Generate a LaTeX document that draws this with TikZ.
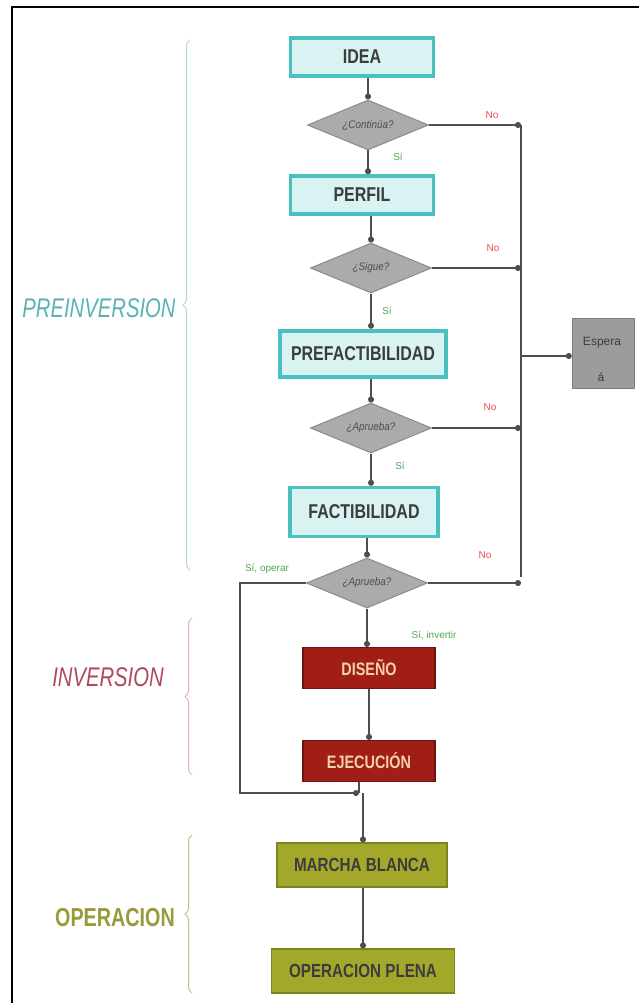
\documentclass[tikz,border=0pt]{standalone}
\usepackage{fontspec}
\setmainfont{Liberation Sans}
\newfontfamily\boxfont[FakeStretch=0.8]{Liberation Sans Bold}
\newfontfamily\labfont[FakeStretch=0.75]{Liberation Sans Italic}
\newfontfamily\oplabfont[FakeStretch=0.76]{Liberation Sans Bold}
\newfontfamily\decfont[FakeStretch=0.9]{Liberation Sans Italic}
\usetikzlibrary{shapes.geometric,arrows.meta,decorations.pathreplacing}
\definecolor{tealb}{HTML}{4BC0C0}
\definecolor{tealf}{HTML}{D9F2F2}
\definecolor{teallab}{HTML}{5AB2B2}
\definecolor{dgray}{HTML}{3C3C3C}
\definecolor{lgray}{HTML}{4E4E4E}
\definecolor{diafill}{HTML}{ABABAB}
\definecolor{diadraw}{HTML}{8A8A8A}
\definecolor{redf}{HTML}{A01E16}
\definecolor{redd}{HTML}{6E1410}
\definecolor{redt}{HTML}{F3D2A8}
\definecolor{olivef}{HTML}{A4A82A}
\definecolor{olived}{HTML}{7C861C}
\definecolor{olivelab}{HTML}{9A9A3A}
\definecolor{invlab}{HTML}{B0485A}
\definecolor{nored}{HTML}{E8505A}
\definecolor{sigreen}{HTML}{4FA84F}
\definecolor{espf}{HTML}{9C9C9C}
\tikzset{
  tbox/.style={draw=tealb,line width=3.5pt,fill=tealf,minimum height=38pt,inner sep=2pt,
    font=\fontsize{20}{22}\boxfont,text=dgray},
  rbox/.style={draw=redd,line width=1.2pt,fill=redf,minimum width=132pt,minimum height=41pt,
    font=\fontsize{18}{20}\boxfont,text=redt},
  obox/.style={draw=olived,line width=1.2pt,fill=olivef,minimum height=44pt,inner sep=2pt,
    font=\fontsize{19}{21}\boxfont,text=dgray},
  dec/.style={diamond,aspect=2.4,draw=diadraw,line width=1pt,fill=diafill,minimum width=121pt,minimum height=50pt,
    inner sep=0pt,font=\fontsize{11}{12}\decfont,text=lgray},
  conn/.style={draw=lgray,line width=1.5pt},
  arr/.style={conn,-{Circle[length=6pt]}},
  nolab/.style={font=\fontsize{10}{11}\selectfont,text=nored},
  silab/.style={font=\fontsize{10}{11}\selectfont,text=sigreen},
  esptext/.style={font=\fontsize{12}{14}\selectfont,text=dgray},
  brc/.style={decorate,decoration={brace,amplitude=7pt},line width=1pt},
}
\begin{document}
\begin{tikzpicture}[x=1pt,y=-1pt]
\useasboundingbox (0,0) rectangle (639,1003);
\fill[white] (0,0) rectangle (639,1003);
% frame
\draw[black,line width=2.5pt] (12,1003) -- (12,7) -- (639,7);

% nodes
\node[tbox,minimum width=143pt] (idea) at (362,57) {IDEA};
\node[dec] (d1) at (368,125) {¿Continúa?};
\node[tbox,minimum width=143pt] (perfil) at (362,195) {PERFIL};
\node[dec] (d2) at (371,268) {¿Sigue?};
\node[tbox,minimum width=166pt,minimum height=46pt,line width=4.5pt] (pref) at (363,354) {PREFACTIBILIDAD};
\node[dec] (d3) at (371,428) {¿Aprueba?};
\node[tbox,minimum width=148pt,minimum height=49pt] (fact) at (364,512) {FACTIBILIDAD};
\node[dec] (d4) at (367,583) {¿Aprueba?};
\node[rbox] (dis) at (369,668) {DISEÑO};
\node[rbox] (eje) at (369,761) {EJECUCIÓN};
\node[obox,minimum width=170pt] (mb) at (362,865) {MARCHA BLANCA};
\node[obox,minimum width=183pt] (op) at (363,971) {OPERACION PLENA};
\node[draw=espf!80!black,line width=0.5pt,fill=espf,minimum width=62pt,minimum height=70pt] (esp) at (603,353) {};
\node[esptext] (esp1) at (602,343) {Espera};
\node[esptext] (esp2) at (601,377) {á};

% coordinates
\coordinate (r1) at (521,125);
\coordinate (r2) at (521,268);
\coordinate (r3) at (521,428);
\coordinate (r4) at (521,583);
\coordinate (rm) at (521,356);
\coordinate (l1) at (240,583);
\coordinate (l2) at (240,793);
\coordinate (j) at (359,793);

% vertical connectors
\draw[arr] (idea.south -| d1) -- (d1.north);
\draw[arr] (d1.south) -- (d1.south |- perfil.north);
\draw[arr] (perfil.south -| d2) -- (d2.north);
\draw[arr] (d2.south) -- (d2.south |- pref.north);
\draw[arr] (pref.south -| d3) -- (d3.north);
\draw[arr] (d3.south) -- (d3.south |- fact.north);
\draw[arr] (fact.south -| d4) -- (d4.north);
\draw[arr] (d4.south) -- (d4.south |- dis.north);
\draw[arr] (dis.south) -- (eje.north);
\draw[conn] (eje.south -| j) -- (j);
\draw[arr] (d4.west) -- (l1) -- (l2) -- (j);
\draw[arr] ([xshift=4pt]j) -- ([xshift=4pt]j |- mb.north);
\draw[arr] (mb.south -| op) -- (op.north);

% right side
\draw[arr] (d1.east) -- (r1);
\draw[arr] (d2.east) -- (r2);
\draw[arr] (d3.east) -- (r3);
\draw[arr] (d4.east) -- (r4);
\draw[conn] (r1) -- ([yshift=6pt]r4);
\draw[arr] (rm) -- (rm -| esp.west);

% labels
\node[nolab] at (492,115) {No};
\node[nolab] at (493,248) {No};
\node[nolab] at (490,407) {No};
\node[nolab] at (485,555) {No};
\node[silab] at (398,157) {Sí};
\node[silab] at (387,311) {Sí};
\node[silab] at (400,466) {Sí};
\node[silab] at (267,569) {Sí, operar};
\node[silab] at (434,635) {Sí, invertir};

% phases
\draw[brc,draw=teallab!50] (190,570) -- (190,40);
\draw[brc,draw=invlab!40] (192,775) -- (192,618);
\draw[brc,draw=olivelab!60] (192,993) -- (192,835);
\node[font=\fontsize{27}{29}\labfont,text=teallab] at (99,308) {PREINVERSION};
\node[font=\fontsize{27}{29}\labfont,text=invlab] at (108,677) {INVERSION};
\node[font=\fontsize{26}{28}\oplabfont,text=olivelab] at (115,918) {OPERACION};
\end{tikzpicture}
\end{document}
